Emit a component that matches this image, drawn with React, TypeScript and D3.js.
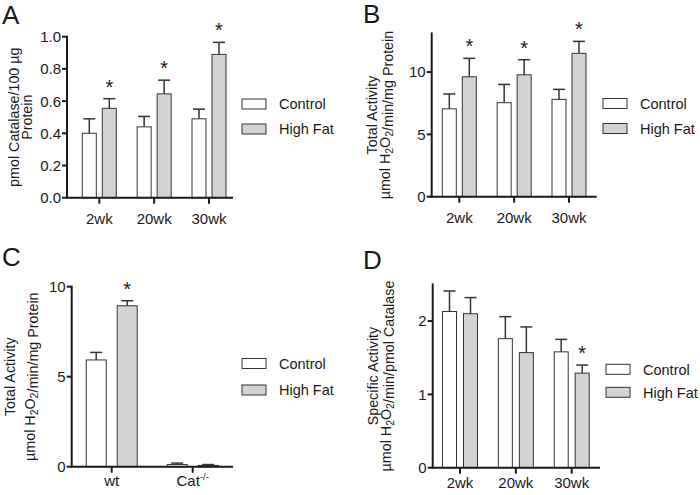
import React from "react";
import * as d3 from "d3";

const weeks = ["2wk", "20wk", "30wk"];
const genotypes = ["wt", "Cat"];
const seriesNames = ["Control", "High Fat"];

// Panel A: pmol Catalase / 100 µg protein
const aControl = [0.40, 0.44, 0.49];
const aControlSem = [0.09, 0.065, 0.06];
const aHighFat = [0.555, 0.645, 0.89];
const aHighFatSem = [0.06, 0.085, 0.075];
const aSig = [true, true, true];
const aTicks = [0, 0.2, 0.4, 0.6, 0.8, 1.0];

// Panel B: total activity
const bControl = [7.05, 7.54, 7.81];
const bControlSem = [1.19, 1.47, 0.8];
const bHighFat = [9.62, 9.78, 11.5];
const bHighFatSem = [1.48, 1.21, 0.96];
const bSig = [true, true, true];
const bTicks = [0, 5, 10];

// Panel C: total activity wt vs Cat-/-
const cControl = [5.93, 0.12];
const cControlSem = [0.42, 0.08];
const cHighFat = [8.94, 0.07];
const cHighFatSem = [0.28, 0.05];
const cSig = [true, false];
const cTicks = [0, 5, 10];

// Panel D: specific activity
const dControl = [2.13, 1.76, 1.58];
const dControlSem = [0.28, 0.30, 0.17];
const dHighFat = [2.10, 1.57, 1.29];
const dHighFatSem = [0.22, 0.35, 0.11];
const dSig = [false, false, true];
const dTicks = [0, 1, 2];

const FONT = "'Liberation Sans', Arial, Helvetica, sans-serif";
const INK = "#1a1a1a";
const GRAY = "#d3d3d3";

type Spec = {
  letter: string;
  lx: number;
  ly: number;
  cats: string[];
  control: number[];
  controlSem: number[];
  highFat: number[];
  highFatSem: number[];
  sig: boolean[];
  ticks: number[];
  tickFmt: (v: number) => string;
  domain: [number, number];
  axisX: number;
  xRight: number;
  y0: number;
  yTop: number;
  c0: number;
  c1: number;
  barW: number;
  off: number;
  xLabDy: number;
  legX: number;
  legY: number;
  legGap: number;
  yLabel: React.ReactNode[];
  yLabelX: number[];
};

const H2O2 = (
  <>
    H<tspan dy={3} fontSize={10.5}>2</tspan>
    <tspan dy={-3}>O</tspan>
    <tspan dy={3} fontSize={10.5}>2</tspan>
    <tspan dy={-3}></tspan>
  </>
);

function Panel({ s }: { s: Spec }) {
  const y = d3.scaleLinear().domain(s.domain).range([s.y0, s.yTop]);
  const x = d3.scalePoint<string>().domain(s.cats).range([s.c0, s.c1]);
  const sub = d3
    .scaleOrdinal<string, number>()
    .domain(seriesNames)
    .range([-s.off, s.off]);
  const groups = [
    { name: seriesNames[0], vals: s.control, sem: s.controlSem, fill: "#ffffff", sig: s.cats.map(() => false) },
    { name: seriesNames[1], vals: s.highFat, sem: s.highFatSem, fill: GRAY, sig: s.sig },
  ];
  const cy = (s.y0 + s.yTop) / 2;
  return (
    <g fontFamily={FONT} fill={INK}>
      <text x={s.lx} y={s.ly} fontSize={26}>{s.letter}</text>
      {groups.map((g) =>
        s.cats.map((c, i) => {
          const cx = (x(c) as number) + sub(g.name);
          const top = y(g.vals[i]);
          const et = y(g.vals[i] + g.sem[i]);
          return (
            <g key={g.name + c}>
              <rect
                x={cx - s.barW / 2}
                y={top}
                width={s.barW}
                height={s.y0 - top}
                fill={g.fill}
                stroke="#333"
                strokeWidth={1}
              />
              <line x1={cx} x2={cx} y1={top} y2={et} stroke="#333" strokeWidth={1.5} />
              <line x1={cx - 6} x2={cx + 6} y1={et} y2={et} stroke="#333" strokeWidth={1.5} />
              {g.sig[i] && (
                <text x={cx} y={et - 5} fontSize={20} textAnchor="middle">*</text>
              )}
            </g>
          );
        })
      )}
      <line x1={s.axisX} x2={s.axisX} y1={s.y0 + 1} y2={s.yTop - 1} stroke={INK} strokeWidth={2} />
      <line x1={s.axisX - 1} x2={s.xRight} y1={s.y0} y2={s.y0} stroke={INK} strokeWidth={2} />
      {s.ticks.map((t) => (
        <g key={t}>
          <line x1={s.axisX - 5} x2={s.axisX} y1={y(t)} y2={y(t)} stroke={INK} strokeWidth={2} />
          <text x={s.axisX - 6} y={y(t)} dy="0.36em" fontSize={15} textAnchor="end">
            {s.tickFmt(t)}
          </text>
        </g>
      ))}
      {s.cats.map((c) => (
        <g key={c}>
          <line x1={x(c)} x2={x(c)} y1={s.y0} y2={s.y0 + 6} stroke={INK} strokeWidth={2} />
          <text x={x(c)} y={s.y0 + s.xLabDy} fontSize={15} textAnchor="middle">
            {c === "Cat" ? (
              <>
                Cat<tspan dy={-6} fontSize={9.5}>-/-</tspan>
              </>
            ) : (
              c
            )}
          </text>
        </g>
      ))}
      {s.yLabel.map((l, i) => (
        <text
          key={i}
          transform={`translate(${s.yLabelX[i]},${cy}) rotate(-90)`}
          fontSize={14.3}
          textAnchor="middle"
        >
          {l}
        </text>
      ))}
      {groups.map((g, i) => (
        <g key={g.name}>
          <rect
            x={s.legX}
            y={s.legY + i * s.legGap}
            width={24}
            height={10}
            fill={g.fill}
            stroke="#333"
            strokeWidth={1}
          />
          <text x={s.legX + 37} y={s.legY + i * s.legGap + 5} dy="0.36em" fontSize={14.5}>
            {g.name}
          </text>
        </g>
      ))}
    </g>
  );
}

const specs: Spec[] = [
  {
    letter: "A", lx: 2, ly: 24, cats: weeks,
    control: aControl, controlSem: aControlSem, highFat: aHighFat, highFatSem: aHighFatSem, sig: aSig,
    ticks: aTicks, tickFmt: d3.format(".1f"), domain: [0, 1],
    axisX: 67, xRight: 233, y0: 197.7, yTop: 36.7, c0: 99.3, c1: 209, barW: 14, off: 10, xLabDy: 26,
    legX: 242, legY: 99, legGap: 25,
    yLabel: ["pmol Catalase/100 µg", "Protein"], yLabelX: [19, 32],
  },
  {
    letter: "B", lx: 363, ly: 23, cats: weeks,
    control: bControl, controlSem: bControlSem, highFat: bHighFat, highFatSem: bHighFatSem, sig: bSig,
    ticks: bTicks, tickFmt: d3.format("d"), domain: [0, 13.1],
    axisX: 431.7, xRight: 596.7, y0: 196.7, yTop: 33.4, c0: 459.3, c1: 569, barW: 14, off: 10, xLabDy: 26.5,
    legX: 603, legY: 98.5, legGap: 25,
    yLabel: ["Total Activity", <>µmol {H2O2}/min/mg Protein</>], yLabelX: [377, 390],
  },
  {
    letter: "C", lx: 2, ly: 266, cats: genotypes,
    control: cControl, controlSem: cControlSem, highFat: cHighFat, highFatSem: cHighFatSem, sig: cSig,
    ticks: cTicks, tickFmt: d3.format("d"), domain: [0, 10],
    axisX: 71.7, xRight: 233, y0: 466.7, yTop: 286.7, c0: 111.7, c1: 192.7, barW: 20, off: 15.5, xLabDy: 19,
    legX: 242, legY: 358.5, legGap: 26.5,
    yLabel: ["Total Activity", <>µmol {H2O2}/min/mg Protein</>], yLabelX: [15, 35],
  },
  {
    letter: "D", lx: 363, ly: 269, cats: weeks,
    control: dControl, controlSem: dControlSem, highFat: dHighFat, highFatSem: dHighFatSem, sig: dSig,
    ticks: dTicks, tickFmt: d3.format("d"), domain: [0, 2.5],
    axisX: 432.7, xRight: 600, y0: 467.7, yTop: 284.4, c0: 460, c1: 571.7, barW: 14, off: 10.5, xLabDy: 20,
    legX: 606, legY: 364.3, legGap: 23,
    yLabel: ["Specific Activity", <>µmol {H2O2}/min/pmol Catalase</>], yLabelX: [378, 391],
  },
];

export default function App() {
  return (
    <svg
      width={700}
      height={495}
      viewBox="0 0 700 495"
      style={{ position: "absolute", left: 0, top: 0, background: "#fff" }}
    >
      <rect width={700} height={495} fill="#fff" />
      {specs.map((s) => (
        <Panel key={s.letter} s={s} />
      ))}
    </svg>
  );
}
